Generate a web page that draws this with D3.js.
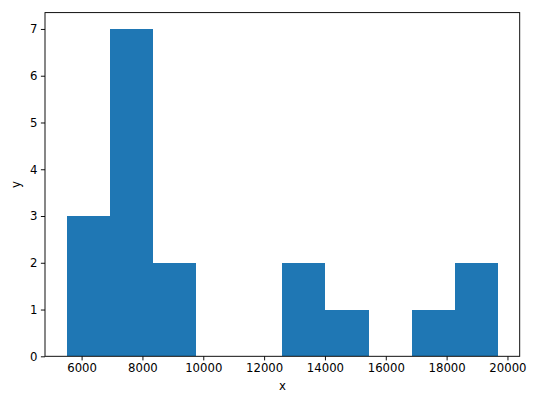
<!DOCTYPE html>
<html><head><meta charset="utf-8">
<script src="https://cdn.jsdelivr.net/npm/d3@7"></script>
<style>body{margin:0;background:#fff}svg{display:block}text{font-family:"DejaVu Sans",sans-serif}</style>
</head><body>
<script>
const binEdges = [5506, 6925, 8343, 9762, 11181, 12600, 14018, 15437, 16856, 18274, 19693];
const counts = [3, 7, 2, 0, 0, 2, 1, 0, 1, 2];
const xTicks = [6000, 8000, 10000, 12000, 14000, 16000, 18000, 20000];
const yTicks = [0, 1, 2, 3, 4, 5, 6, 7];

const W = 540, H = 405;
const m = {l: 45, r: 20.3, t: 12.6, b: 48.7};
const svg = d3.select("body").append("svg").attr("width", W).attr("height", H);
const span = binEdges[binEdges.length-1] - binEdges[0];
const x = d3.scaleLinear().domain([binEdges[0] - span*0.05, binEdges[binEdges.length-1] + span*0.05]).range([m.l, W - m.r]);
const y = d3.scaleLinear().domain([0, 7.35]).range([H - m.b, m.t]);

const bins = counts.map((c, i) => ({x0: binEdges[i], x1: binEdges[i+1], c}));
svg.append("g").selectAll("rect").data(bins.filter(d => d.c > 0)).join("rect")
  .attr("x", d => x(d.x0)).attr("width", d => x(d.x1) - x(d.x0))
  .attr("y", d => y(d.c)).attr("height", d => y(0) - y(d.c))
  .attr("fill", "#1f77b4").attr("shape-rendering", "crispEdges");

const fs = "11.7px";
const gx = svg.append("g").attr("transform", `translate(0,${H - m.b})`)
  .call(d3.axisBottom(x).tickValues(xTicks).tickFormat(d3.format("d")).tickSize(4.1).tickPadding(3.5));
const gy = svg.append("g").attr("transform", `translate(${m.l},0)`)
  .call(d3.axisLeft(y).tickValues(yTicks).tickFormat(d3.format("d")).tickSize(4.1).tickPadding(3.5));
[gx, gy].forEach(g => {
  g.select(".domain").remove();
  g.selectAll("line").attr("stroke", "#000").attr("stroke-width", 0.94);
  g.selectAll("text").attr("font-size", fs).attr("fill", "#000").attr("font-family", "DejaVu Sans");
});
svg.append("rect").attr("x", m.l).attr("y", m.t).attr("width", W - m.l - m.r).attr("height", H - m.t - m.b)
  .attr("fill", "none").attr("stroke", "#000").attr("stroke-width", 0.94);

svg.append("text").attr("x", (m.l + W - m.r)/2).attr("y", 390).attr("text-anchor", "middle")
  .attr("font-size", fs).text("x");
svg.append("text").attr("transform", `translate(20,${(m.t + H - m.b)/2}) rotate(-90)`).attr("text-anchor", "middle")
  .attr("font-size", fs).text("y");
</script>
</body></html>
